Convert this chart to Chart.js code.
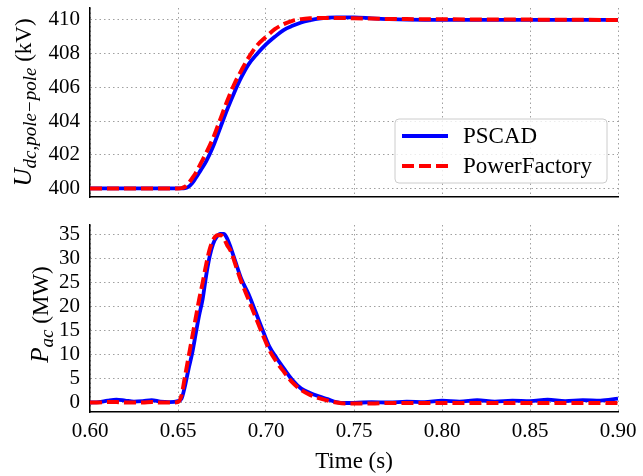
<!DOCTYPE html>
<html>
<head>
<meta charset="utf-8">
<script src="https://cdn.jsdelivr.net/npm/chart.js@4.4.1/dist/chart.umd.min.js"></script>
<style>
  html, body { margin: 0; padding: 0; background: #fff; }
  #wrap { position: relative; width: 643px; height: 476px; }
  .pane { position: absolute; left: 0; width: 643px; }
</style>
</head>
<body>
<div id="wrap">
  <div class="pane" style="top:0;height:210px"><canvas id="udcChart"></canvas></div>
  <div class="pane" style="top:210px;height:266px"><canvas id="pChart"></canvas></div>
</div>
<script>
// Series names
const seriesNames = ['PSCAD', 'PowerFactory'];

// DC pole-pole voltage (kV)
const timeUdc = [0.600, 0.650, 0.652, 0.654, 0.656, 0.658, 0.660, 0.663, 0.666, 0.670,
  0.674, 0.678, 0.682, 0.686, 0.690, 0.695, 0.700, 0.705, 0.710, 0.715,
  0.720, 0.725, 0.730, 0.740, 0.750, 0.760, 0.770, 0.780, 0.800, 0.850, 0.900];
const udcPscad = [400.0, 400.0, 400.0, 400.02, 400.1, 400.3, 400.6, 401.1, 401.6, 402.5,
  403.6, 404.7, 405.7, 406.6, 407.35, 408.0, 408.55, 409.0, 409.4, 409.65,
  409.85, 409.98, 410.08, 410.15, 410.15, 410.1, 410.05, 410.02, 410.0, 410.0, 410.0];
const udcPowerFactory = [400.0, 400.0, 400.02, 400.1, 400.3, 400.6, 400.9, 401.5, 402.1, 403.0,
  404.1, 405.2, 406.2, 407.0, 407.75, 408.5, 409.0, 409.45, 409.75, 409.95,
  410.05, 410.1, 410.12, 410.12, 410.1, 410.08, 410.06, 410.05, 410.04, 410.02, 410.0];

// AC active power (MW)
const timeP = [0.600, 0.605, 0.610, 0.615, 0.620, 0.625, 0.630, 0.635, 0.640, 0.645,
  0.650, 0.652, 0.654, 0.656, 0.658, 0.660, 0.662, 0.664, 0.666, 0.668,
  0.670, 0.672, 0.674, 0.676, 0.678, 0.680, 0.683, 0.686, 0.690, 0.694,
  0.698, 0.702, 0.706, 0.710, 0.715, 0.720, 0.725, 0.730, 0.735, 0.740,
  0.745, 0.750, 0.760, 0.770, 0.780, 0.790, 0.800, 0.810, 0.820, 0.830,
  0.840, 0.850, 0.860, 0.870, 0.880, 0.890, 0.900];
const pPscad = [0.0, 0.1, 0.4, 0.6, 0.4, 0.2, 0.3, 0.5, 0.2, 0.1,
  0.3, 0.8, 3.5, 7.0, 10.2, 14.2, 18.2, 21.6, 26.5, 30.5,
  33.2, 34.6, 35.2, 35.2, 34.2, 32.3, 29.0, 25.8, 22.7, 19.0,
  15.2, 11.6, 9.3, 7.2, 4.7, 2.9, 2.0, 1.3, 0.7, 0.1,
  -0.1, -0.1, 0.1, 0.0, 0.2, 0.1, 0.4, 0.2, 0.5, 0.2,
  0.4, 0.3, 0.6, 0.3, 0.5, 0.4, 0.8];
const pPowerFactory = [0.0, 0.0, 0.1, 0.1, 0.0, 0.0, 0.0, 0.1, 0.0, 0.0,
  0.1, 1.5, 5.5, 9.5, 13.5, 17.5, 21.5, 25.0, 28.8, 32.0,
  34.0, 34.9, 35.0, 34.3, 32.8, 31.6, 28.4, 25.2, 21.6, 17.9,
  14.3, 10.9, 8.5, 6.5, 4.2, 2.6, 1.6, 0.9, 0.4, 0.0,
  -0.2, -0.2, -0.2, -0.1, -0.1, -0.1, -0.1, -0.1, -0.1, -0.1,
  -0.1, -0.1, -0.1, -0.1, -0.1, -0.1, -0.1];

// Tick labels
const timeTicks = [0.60, 0.65, 0.70, 0.75, 0.80, 0.85, 0.90];
const udcTicks = [400, 402, 404, 406, 408, 410];
const pTicks = [0, 5, 10, 15, 20, 25, 30, 35];

// Axis titles: [text, font size, italic, baseline shift]
const udcTitle = [['U', 25, true, 0], ['dc,pole\u2212pole', 19, true, 5], [' (kV)', 23, false, 0]];
const pTitle = [['P', 25, true, 0], ['ac', 19, true, 5], [' (MW)', 23, false, 0]];

const SERIF = "'Liberation Serif', 'DejaVu Serif', serif";
const GRID_COLOR = '#a0a0a0';

Chart.defaults.font.family = SERIF;
Chart.defaults.color = '#000';

// Rotated y-axis title with italic symbol and subscript
function drawYTitle(ctx, area, parts, x, dy) {
  ctx.save();
  ctx.translate(x, (area.top + area.bottom) / 2 + dy);
  ctx.rotate(-Math.PI / 2);
  ctx.fillStyle = '#000';
  ctx.textBaseline = 'alphabetic';
  ctx.textAlign = 'left';

  const widths = [];
  let total = 0;
  parts.forEach(p => {
    ctx.font = (p[2] ? 'italic ' : '') + p[1] + 'px ' + SERIF;
    const w = ctx.measureText(p[0]).width;
    widths.push(w);
    total += w;
  });
  let cx = -total / 2;
  parts.forEach((p, i) => {
    ctx.font = (p[2] ? 'italic ' : '') + p[1] + 'px ' + SERIF;
    ctx.fillText(p[0], cx, p[3]);
    cx += widths[i];
  });
  ctx.restore();
}

function yTitlePlugin(parts, x, dy) {
  return {
    id: 'yTitle',
    afterDraw: (chart) => drawYTitle(chart.ctx, chart.chartArea, parts, x, dy)
  };
}

// Legend drawn inside the plot area
function boxLegendPlugin(x, y, w, h, rowH, fontSize) {
  return {
    id: 'boxLegend',
    afterDatasetsDraw: (chart) => {
      const ctx = chart.ctx;
      ctx.save();

      // Frame
      ctx.beginPath();
      ctx.roundRect(x, y, w, h, 4);
      ctx.fillStyle = 'rgba(255, 255, 255, 0.8)';
      ctx.fill();
      ctx.strokeStyle = '#cccccc';
      ctx.lineWidth = 1;
      ctx.stroke();

      // Entries, in series order
      const sets = chart.data.datasets.slice().sort((a, b) => a.legendIndex - b.legendIndex);
      sets.forEach((ds, i) => {
        const cy = y + 17 + i * rowH;
        ctx.beginPath();
        ctx.setLineDash(ds.borderDash || []);
        ctx.moveTo(x + 7, cy);
        ctx.lineTo(x + 53, cy);
        ctx.strokeStyle = ds.borderColor;
        ctx.lineWidth = ds.borderWidth;
        ctx.stroke();
        ctx.setLineDash([]);
        ctx.font = fontSize + 'px ' + SERIF;
        ctx.fillStyle = '#000';
        ctx.textBaseline = 'middle';
        ctx.fillText(ds.label, x + 68, cy + 1);
      });
      ctx.restore();
    }
  };
}

function toPoints(times, values) {
  return times.map((t, i) => ({ x: t, y: values[i] }));
}

function makeDatasets(times, blue, red) {
  return [
    {
      label: seriesNames[0],
      data: toPoints(times, blue),
      borderColor: '#0000ff',
      borderWidth: 3.8,
      pointRadius: 0,
      cubicInterpolationMode: 'monotone',
      order: 1,
      legendIndex: 0
    },
    {
      label: seriesNames[1],
      data: toPoints(times, red),
      borderColor: '#ff0000',
      borderWidth: 4,
      borderDash: [12, 5],
      pointRadius: 0,
      cubicInterpolationMode: 'monotone',
      order: 0,
      legendIndex: 1
    }
  ];
}

function xScale(showLabels, axisHeight) {
  return {
    type: 'linear',
    min: 0.6,
    max: 0.9,
    afterBuildTicks: s => { s.ticks = timeTicks.map(v => ({ value: v })); },
    afterFit: s => {
      s.height = axisHeight;
      s.paddingLeft = 0;
      s.paddingRight = 0;
    },
    ticks: {
      display: showLabels,
      autoSkip: false,
      padding: 7,
      font: { size: 21 },
      maxRotation: 0,
      callback: v => v.toFixed(2)
    },
    grid: { color: GRID_COLOR, lineWidth: 1, drawTicks: false },
    border: { display: true, color: '#000', width: 1.5, dash: [1.5, 3] },
    title: {
      display: showLabels,
      text: 'Time (s)',
      font: { size: 23, lineHeight: 1.2 },
      padding: { top: 0, bottom: 0 }
    }
  };
}

function yScale(min, max, tickValues) {
  return {
    type: 'linear',
    min: min,
    max: max,
    afterBuildTicks: s => { s.ticks = tickValues.map(v => ({ value: v })); },
    afterFit: s => {
      s.width = 90;
      s.paddingTop = 0;
      s.paddingBottom = 0;
    },
    ticks: {
      autoSkip: false,
      padding: 10,
      font: { size: 21 },
      callback: v => String(v)
    },
    grid: { color: GRID_COLOR, lineWidth: 1, drawTicks: false },
    border: { display: true, color: '#000', width: 1.5, dash: [1.5, 3] }
  };
}

const baseOptions = (padTop, xAxis, yAxis) => ({
  responsive: true,
  maintainAspectRatio: false,
  animation: false,
  layout: { padding: { top: padTop, right: 25, left: 0, bottom: 0 } },
  scales: { x: xAxis, y: yAxis },
  plugins: { legend: { display: false }, tooltip: { enabled: false } }
});

// Top: DC voltage
new Chart(document.getElementById('udcChart'), {
  type: 'line',
  data: { datasets: makeDatasets(timeUdc, udcPscad, udcPowerFactory) },
  options: baseOptions(8, xScale(false, 13), yScale(399.49, 410.71, udcTicks)),
  plugins: [boxLegendPlugin(395, 119, 212, 64, 30, 23), yTitlePlugin(udcTitle, 31, 0)]
});

// Bottom: AC power
new Chart(document.getElementById('pChart'), {
  type: 'line',
  data: { datasets: makeDatasets(timeP, pPscad, pPowerFactory) },
  options: baseOptions(15, xScale(true, 64), yScale(-1.98, 37.07, pTicks)),
  plugins: [yTitlePlugin(pTitle, 48, -4)]
});
</script>
</body>
</html>
